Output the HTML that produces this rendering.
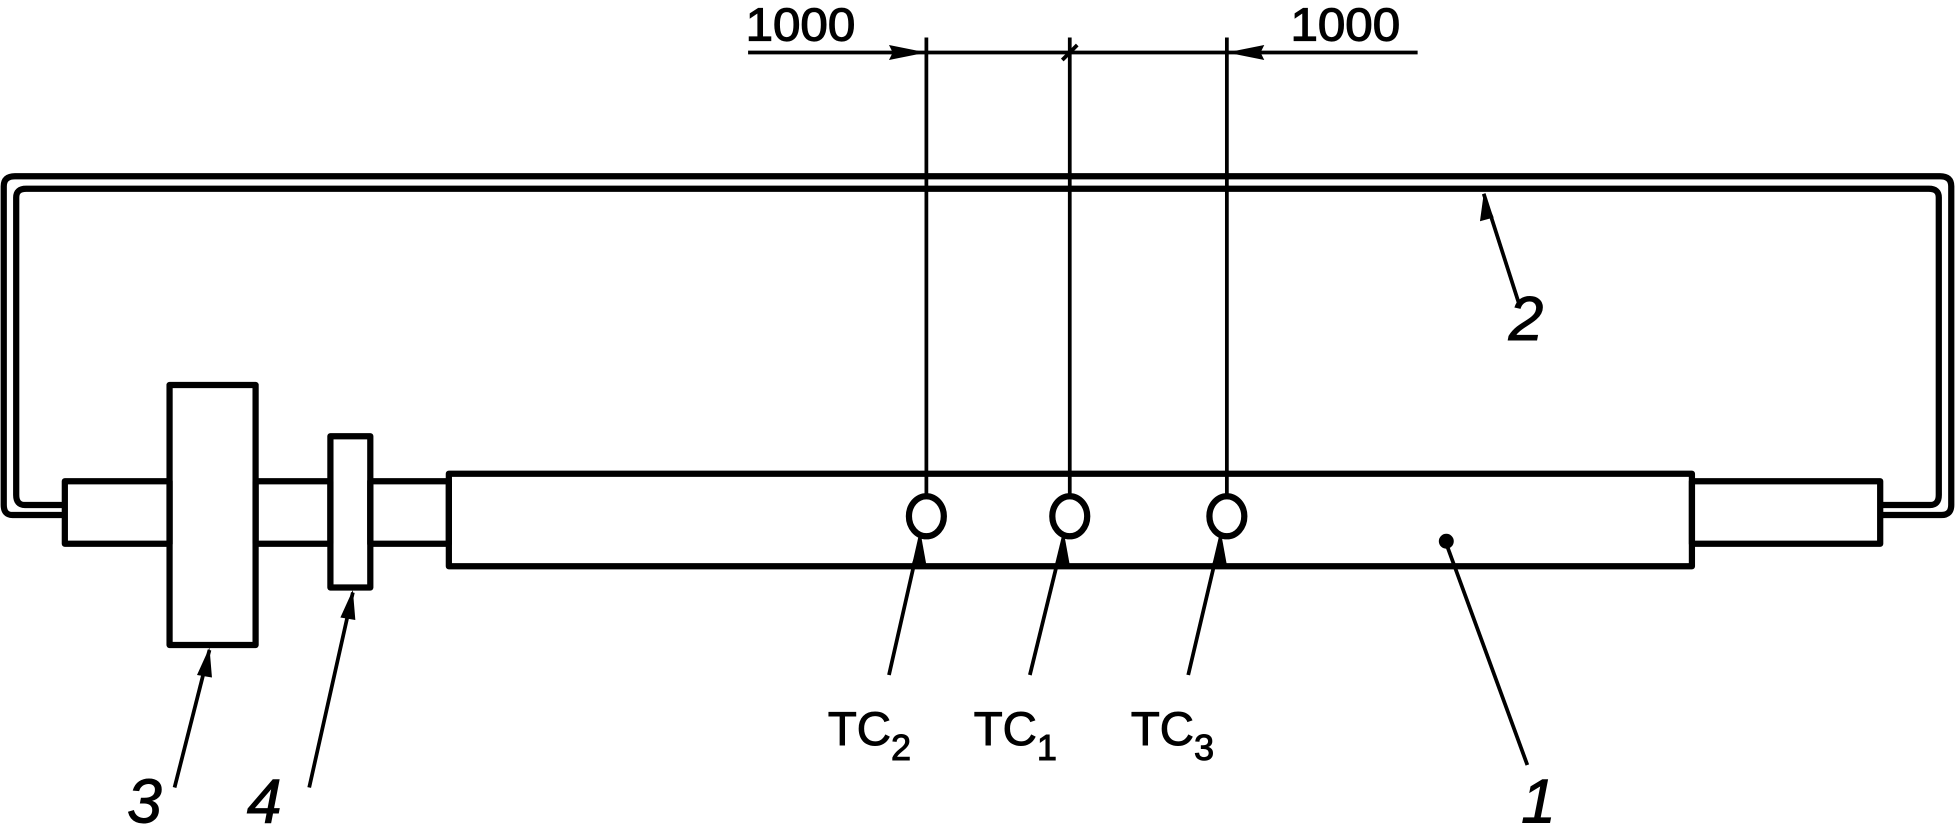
<!DOCTYPE html>
<html><head><meta charset="utf-8"><style>
html,body{margin:0;padding:0;background:#fff;width:1955px;height:825px;overflow:hidden}
svg{display:block}
text{font-family:"Liberation Sans",Arial,sans-serif;fill:#000;stroke:#000;stroke-width:0.8}
</style></head><body>
<svg width="1955" height="825" viewBox="0 0 1568 660" preserveAspectRatio="none">
<g fill="none" stroke="#000" stroke-width="5" stroke-linejoin="round">
<path d="M52 412 H10 Q3 412 3 404 V149 Q3 141 12 141 H1556 Q1565 141 1565 149 V404 Q1565 412 1557 412 H1508"/>
<path d="M52 404 H20 Q13 404 13 396 V158 Q13 151 21 151 H1547 Q1555 151 1555 158 V396 Q1555 404 1548 404 H1508"/>
<rect x="52" y="385" width="84" height="50"/>
<rect x="205" y="385" width="60" height="50"/>
<rect x="297" y="385" width="63" height="50"/>
<rect x="136" y="308" width="69" height="208"/>
<rect x="265" y="349" width="32" height="121"/>
<rect x="360" y="379" width="997" height="74"/>
<rect x="1357" y="385" width="151" height="50"/>
<ellipse cx="743" cy="413" rx="14" ry="16"/>
<ellipse cx="858" cy="413" rx="14" ry="16"/>
<ellipse cx="984" cy="413" rx="14" ry="16"/>
</g>
<g stroke="#000" stroke-width="3" fill="none">
<line x1="743" y1="30" x2="743" y2="397"/>
<line x1="858" y1="30" x2="858" y2="397"/>
<line x1="984" y1="30" x2="984" y2="397"/>
<line x1="600" y1="42" x2="1137" y2="42"/>
<line x1="852" y1="48" x2="864" y2="36"/>
<line x1="738" y1="430" x2="713" y2="540"/>
<line x1="853" y1="430" x2="826" y2="540"/>
<line x1="979" y1="430" x2="953" y2="540"/>
<line x1="1160" y1="435" x2="1225" y2="612"/>
<line x1="1190" y1="155" x2="1218" y2="242"/>
<line x1="168" y1="520" x2="140" y2="630"/>
<line x1="283" y1="474" x2="248" y2="630"/>
</g>
<g fill="#000">
<polygon points="743,42 713,36 716,42 713,48"/>
<polygon points="984,42 1014,36 1011,42 1014,48"/>
<polygon points="739,430 731,452 743,452"/>
<polygon points="854,430 846,452 858,452"/>
<polygon points="980,430 972,452 984,452"/>
<polygon points="1190,155 1187,177 1198,174"/>
<polygon points="168,518 158,540 170,542"/>
<polygon points="283,472 273,494 285,496"/>
<circle cx="1160" cy="433" r="6"/>
</g>
<g font-size="31">
<text x="598" y="32" textLength="88" lengthAdjust="spacingAndGlyphs" transform="translate(0,-6) scale(1,1.2)">1000</text>
<text x="1035" y="32" textLength="88" lengthAdjust="spacingAndGlyphs" transform="translate(0,-6) scale(1,1.2)">1000</text>
</g>
<g font-size="38">
<text x="664" y="596">TC<tspan font-size="29" dy="12">2</tspan></text>
<text x="781" y="596">TC<tspan font-size="29" dy="12">1</tspan></text>
<text x="907" y="596">TC<tspan font-size="29" dy="12">3</tspan></text>
</g>
<g font-size="50" font-style="italic">
<text x="102" y="658">3</text>
<text x="198" y="658">4</text>
<text x="1220" y="658">1</text>
<text x="1210" y="272">2</text>
</g>
</svg>
</body></html>
